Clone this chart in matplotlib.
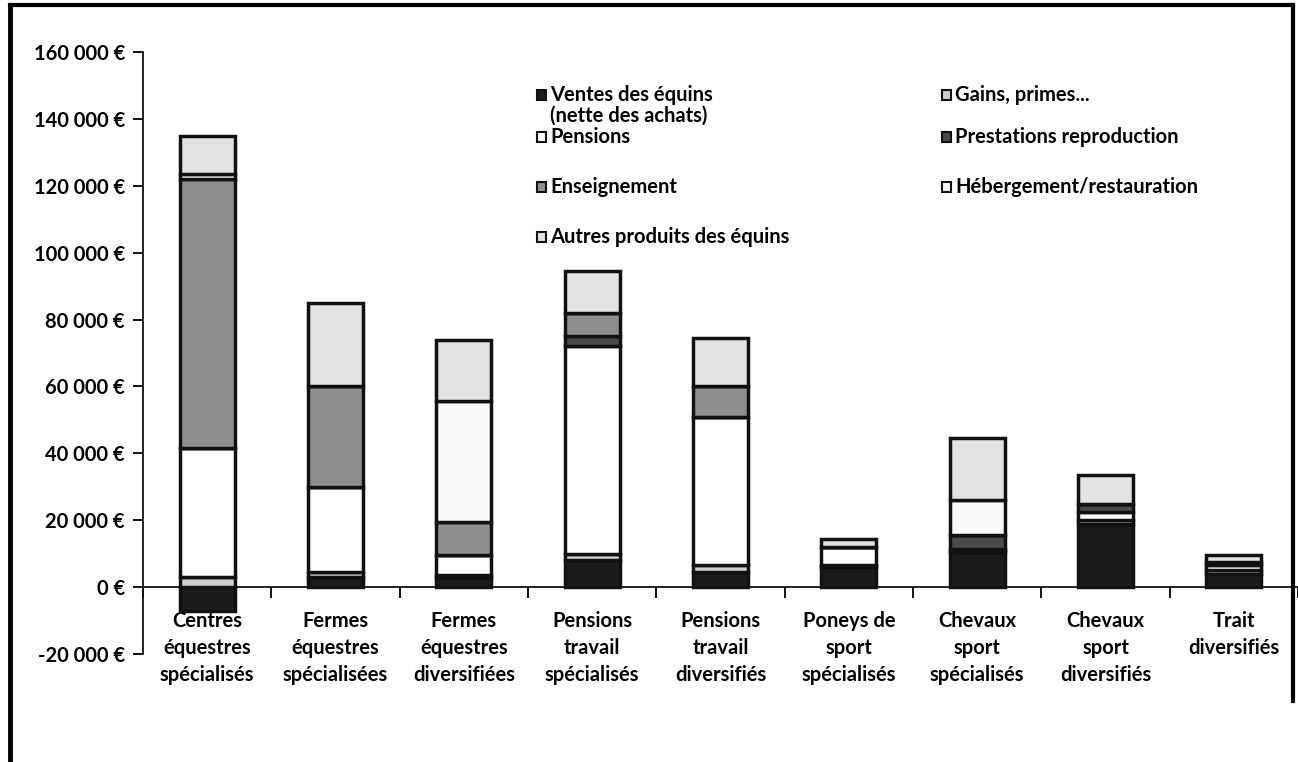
import matplotlib.pyplot as plt
from matplotlib.lines import Line2D
from matplotlib.patches import Rectangle
import numpy as np

plt.rcParams['font.family'] = ['Lato', 'DejaVu Sans']
plt.rcParams['font.weight'] = 'bold'

categories = ["Centres\néquestres\nspécialisés", "Fermes\néquestres\nspécialisées",
              "Fermes\néquestres\ndiversifiées", "Pensions\ntravail\nspécialisés",
              "Pensions\ntravail\ndiversifiés", "Poneys de\nsport\nspécialisés",
              "Chevaux\nsport\nspécialisés", "Chevaux\nsport\ndiversifiés",
              "Trait\ndiversifiés"]

# values (euros)
ventes = [-7000, 3000, 2700, 8000, 4500, 6000, 10500, 19000, 4000]
gains = [3000, 1500, 900, 2000, 2000, 700, 1000, 1000, 1000]
pensions = [38500, 25500, 6000, 62000, 44500, 5300, 0, 2500, 1500]
prestations = [0, 0, 0, 3000, 0, 0, 4000, 2500, 1000]
enseignement = [80500, 30000, 10000, 7000, 9000, 0, 0, 0, 0]
hebergement = [1500, 0, 36000, 0, 0, 0, 10500, 0, 0]
autres = [11500, 25000, 18400, 12500, 14500, 2500, 18500, 8500, 2000]

series_names = ["Ventes des équins\n(nette des achats)", "Gains, primes...", "Pensions",
                "Prestations reproduction", "Enseignement", "Hébergement/restauration",
                "Autres produits des équins"]
series = [ventes, gains, pensions, prestations, enseignement, hebergement, autres]
colors = ['#1c1c1c', '#cfcfcf', '#ffffff', '#4a4a4a', '#8e8e8e', '#fafafa', '#e2e2e2']

fig = plt.figure(figsize=(12.98, 7.62), dpi=100)
ax = fig.add_axes([143 / 1298, 1 - 654 / 762, 1 - 143 / 1298, (654 - 52) / 762])

x = np.arange(len(categories))
pos_bottom = np.zeros(len(categories))
neg_bottom = np.zeros(len(categories))
for vals, col in zip(series, colors):
    vals = np.array(vals, dtype=float)
    bottom = np.where(vals >= 0, pos_bottom, neg_bottom)
    ax.bar(x, vals, width=0.43, bottom=bottom, color=col,
           edgecolor='#111111', linewidth=2.5, zorder=3)
    pos_bottom += np.where(vals >= 0, vals, 0)
    neg_bottom += np.where(vals < 0, vals, 0)

ax.set_xlim(-0.5, len(categories) - 0.5)
ax.set_ylim(-20000, 160000)
ax.set_yticks(np.arange(-20000, 160001, 20000))
ax.set_yticklabels([f"{v:,.0f} €".replace(",", " ") for v in np.arange(-20000, 160001, 20000)])

ax.spines['top'].set_visible(False)
ax.spines['right'].set_visible(False)
ax.spines['bottom'].set_position(('data', 0))
for s in ['left', 'bottom']:
    ax.spines[s].set_linewidth(1.3)
    ax.spines[s].set_color('#111111')

ax.set_xticks(x)
ax.set_xticklabels(categories, fontsize=14.5, fontweight='bold', linespacing=1.45)
ax.set_xticks(np.arange(-0.5, len(categories), 1), minor=True)
ax.tick_params(axis='x', which='major', length=0, pad=17)
ax.tick_params(axis='x', which='minor', length=8, width=1.3, direction='out')
ax.tick_params(axis='y', length=7, width=1.3, labelsize=14.5, pad=6)
for lab in ax.get_yticklabels():
    lab.set_fontweight('bold')

# legend laid out like the Excel one (two columns, first entry on two lines)
legend_pos = [(537, 95), (942, 95), (537, 137), (942, 137),
              (537, 187), (942, 187), (537, 237)]
for (px, py), name, col in zip(legend_pos, series_names, colors):
    fx, fy = px / 1298, 1 - py / 762
    fig.patches.append(Rectangle((fx, fy - 0.007), 9 / 1298, 10 / 762, transform=fig.transFigure,
                                 facecolor=col, edgecolor='#111111', linewidth=1.5))
    fig.text(fx + 13 / 1298, fy + 0.013, name, fontsize=14.5, fontweight='bold',
             va='top', ha='left', linespacing=1.05)

# frame of the scanned figure
fig.add_artist(Line2D([10 / 1298, 10 / 1298], [0, 1 - 5 / 762], transform=fig.transFigure,
                      color='black', linewidth=3.5))
fig.add_artist(Line2D([10 / 1298, 1293 / 1298], [1 - 5 / 762, 1 - 5 / 762],
                      transform=fig.transFigure, color='black', linewidth=3))
fig.add_artist(Line2D([1293 / 1298, 1293 / 1298], [0.08, 1 - 5 / 762],
                      transform=fig.transFigure, color='black', linewidth=3))

fig.savefig('out.png', dpi=100)
